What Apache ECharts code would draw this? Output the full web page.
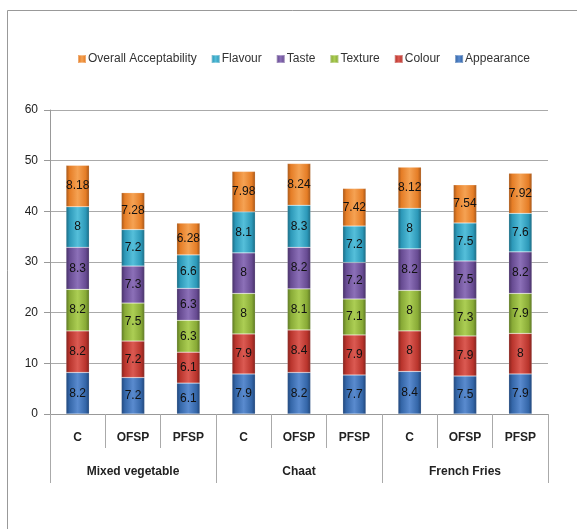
<!DOCTYPE html>
<html lang="en">
<head>
    <meta charset="UTF-8">
    <title>Sensory scores</title>
    <script src="https://cdn.jsdelivr.net/npm/echarts@6/dist/echarts.min.js"></script>
    <style>
        html, body { margin: 0; padding: 0; background: #fff; }
        #main { width: 577px; height: 529px; }
    </style>
</head>
<body>
<div id="main"></div>
<script type="text/javascript">
    // categories
    var samples = ['C', 'OFSP', 'PFSP', 'C', 'OFSP', 'PFSP', 'C', 'OFSP', 'PFSP'];
    var groups = ['Mixed vegetable', 'Chaat', 'French Fries'];
    var yTicks = [0, 10, 20, 30, 40, 50, 60];

    // series values (bottom to top)
    var appearance = [8.2, 7.2, 6.1, 7.9, 8.2, 7.7, 8.4, 7.5, 7.9];
    var colour = [8.2, 7.2, 6.1, 7.9, 8.4, 7.9, 8, 7.9, 8];
    var texture = [8.2, 7.5, 6.3, 8, 8.1, 7.1, 8, 7.3, 7.9];
    var taste = [8.3, 7.3, 6.3, 8, 8.2, 7.2, 8.2, 7.5, 8.2];
    var flavour = [8, 7.2, 6.6, 8.1, 8.3, 7.2, 8, 7.5, 7.6];
    var overall = [8.18, 7.28, 6.28, 7.98, 8.24, 7.42, 8.12, 7.54, 7.92];

    var font = '"Liberation Sans Narrow", "Liberation Sans", sans-serif';

    // horizontal bevel look
    function bevel(light, base, dark) {
        return new echarts.graphic.LinearGradient(0, 0, 1, 0, [
            {offset: 0, color: dark},
            {offset: 0.15, color: base},
            {offset: 0.5, color: light},
            {offset: 0.85, color: base},
            {offset: 1, color: dark}
        ]);
    }

    function stack(name, data, light, base, dark) {
        return {
            name: name,
            type: 'bar',
            stack: 'total',
            barWidth: '42%',
            data: data,
            itemStyle: {
                color: bevel(light, base, dark),
                borderColor: 'rgba(255,255,255,0.35)',
                borderWidth: 0.5
            },
            label: {
                show: true,
                position: 'inside',
                color: '#111',
                fontSize: 12,
                fontFamily: font
            }
        };
    }

    var chart = echarts.init(document.getElementById('main'));
    chart.setOption({
        animation: false,
        backgroundColor: '#fff',
        color: ['#3466a8', '#b9342c', '#88aa36', '#674b92', '#2c98b8', '#e57d26'],
        graphic: [{
            type: 'rect',
            shape: {x: 7.5, y: 10.5, width: 620, height: 600},
            style: {fill: 'none', stroke: '#999', lineWidth: 1}
        }],
        legend: {
            top: 48,
            left: 72,
            itemWidth: 8,
            itemHeight: 8,
            itemGap: 14,
            icon: 'rect',
            data: ['Overall Acceptability', 'Flavour', 'Taste', 'Texture', 'Colour', 'Appearance'],
            textStyle: {fontSize: 12, color: '#333', fontFamily: font, padding: [0, 0, 0, -3]}
        },
        grid: {left: 50, right: 29, top: 110, bottom: 115},
        xAxis: [{
            type: 'category',
            data: samples,
            position: 'bottom',
            axisLine: {show: true, lineStyle: {color: '#999'}},
            axisTick: {show: true, interval: 0, length: 34, lineStyle: {color: '#aaa'}},
            axisLabel: {interval: 0, margin: 18, fontSize: 12, fontWeight: 'bold', color: '#222', fontFamily: font}
        }, {
            type: 'category',
            data: groups,
            position: 'bottom',
            axisLine: {show: false},
            axisTick: {show: true, interval: 0, length: 69, lineStyle: {color: '#aaa'}},
            axisLabel: {interval: 0, margin: 52, fontSize: 12, fontWeight: 'bold', color: '#222', fontFamily: font}
        }],
        yAxis: {
            type: 'value',
            min: yTicks[0],
            max: yTicks[yTicks.length - 1],
            interval: 10,
            axisLine: {show: true, lineStyle: {color: '#999'}},
            axisTick: {show: true, length: 6, lineStyle: {color: '#999'}},
            axisLabel: {fontSize: 12, color: '#222', margin: 12, fontFamily: font},
            splitLine: {lineStyle: {color: '#aaa'}}
        },
        series: [
            stack('Appearance', appearance, '#5a8bcf', '#3466a8', '#1f4478'),
            stack('Colour', colour, '#db5a52', '#b9342c', '#80221d'),
            stack('Texture', texture, '#acce54', '#88aa36', '#5a7422'),
            stack('Taste', taste, '#8c70b8', '#674b92', '#453064'),
            stack('Flavour', flavour, '#55bfda', '#2c98b8', '#1a6880'),
            stack('Overall Acceptability', overall, '#f5a253', '#e57d26', '#a35417')
        ]
    });
</script>
</body>
</html>
